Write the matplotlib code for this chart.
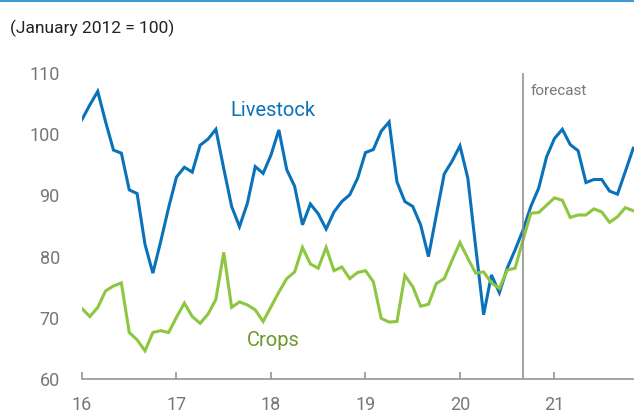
import matplotlib
matplotlib.use("Agg")
import matplotlib.pyplot as plt
import numpy as np

plt.rcParams['font.family'] = ['Roboto', 'DejaVu Sans']

# monthly index values, Jan 2016 onwards (forecast from Sep 2020)
livestock = [102.4, 104.8, 107.0, 102.0, 97.4, 96.9, 90.9, 90.3, 82.0, 77.3,
             82.5, 88.0, 93.0, 94.6, 93.8, 98.2, 99.2, 100.8, 94.4, 88.2,
             84.9, 88.7, 94.7, 93.6, 96.6, 100.7, 94.2, 91.5, 85.2, 88.6,
             87.0, 84.5, 87.3, 89.0, 90.1, 92.8, 97.0, 97.5, 100.5, 102.0,
             92.2, 89.0, 88.2, 85.2, 80.0, 86.8, 93.5, 95.6, 98.1, 92.8,
             81.5, 70.5, 77.0, 74.1, 78.1, 81.1, 84.3, 88.2, 91.2, 96.3,
             99.3, 100.8, 98.3, 97.3, 92.1, 92.6, 92.6, 90.7, 90.2, 93.9,
             97.7]
crops = [71.5, 70.2, 71.7, 74.4, 75.2, 75.7, 67.6, 66.4, 64.6, 67.6,
         67.9, 67.6, 70.1, 72.4, 70.2, 69.1, 70.6, 73.0, 80.7, 71.7,
         72.6, 72.1, 71.3, 69.4, 71.8, 74.2, 76.4, 77.5, 81.5, 78.8,
         78.1, 81.5, 77.7, 78.3, 76.4, 77.4, 77.7, 75.9, 69.9, 69.3,
         69.4, 76.9, 75.1, 71.9, 72.2, 75.6, 76.4, 79.4, 82.3, 79.7,
         77.3, 77.5, 75.7, 74.8, 77.8, 78.1, 82.7, 87.1, 87.2, 88.4,
         89.6, 89.2, 86.4, 86.8, 86.8, 87.8, 87.3, 85.6, 86.5, 88.0,
         87.5]
years = ['16', '17', '18', '19', '20', '21']
forecast_start = 56  # months after Jan 2016
y_ticks = [60, 70, 80, 90, 100, 110]

blue = '#0a72b8'
green = '#8dc63f'
grey = '#777777'

months = np.arange(len(livestock))

fig = plt.figure(figsize=(6.34, 4.17), dpi=100)
ax = fig.add_axes([82 / 634, 38 / 417, 1 - 82 / 634, 306 / 417])

ax.plot(months, livestock, color=blue, lw=2.2, solid_joinstyle='miter')
ax.plot(months, crops, color=green, lw=2.2, solid_joinstyle='miter')
ax.axvline(forecast_start, ymin=0, ymax=1.0, color='#8c8c8c', lw=1.1)

ax.set_xlim(0, 70.1)
ax.set_ylim(60, 110)
ax.set_xticks(np.arange(len(years)) * 12)
ax.set_xticklabels(years)
ax.set_yticks(y_ticks)

for s in ['left', 'right', 'top']:
    ax.spines[s].set_visible(False)
ax.spines['bottom'].set_color('#8c8c8c')
ax.spines['bottom'].set_linewidth(1.1)
ax.tick_params(axis='x', direction='in', length=5, width=1.1, color='#8c8c8c',
               labelsize=13, labelcolor=grey, pad=12)
ax.tick_params(axis='y', length=0, labelsize=13, labelcolor=grey, pad=16)

ax.text(0.3464, 0.876, 'Livestock', transform=ax.transAxes, color=blue,
        fontsize=14.5, ha='center', va='center')
ax.text(0.3464, 0.127, 'Crops', transform=ax.transAxes,
        color='#6b9a2a', fontsize=14.5, ha='center', va='center')
ax.text(forecast_start + 1, 107.0, 'forecast', color=grey, fontsize=11,
        ha='left', va='center')

fig.text(10 / 634, 1 - 28 / 417, '(January 2012 = 100)', fontsize=12.5,
         color='#222222', ha='left', va='center')
fig.add_artist(plt.Line2D([0, 1], [1 - 1 / 417, 1 - 1 / 417], color='#3d9bd6',
                          lw=1.5, transform=fig.transFigure))

fig.savefig('out.png', dpi=100)
